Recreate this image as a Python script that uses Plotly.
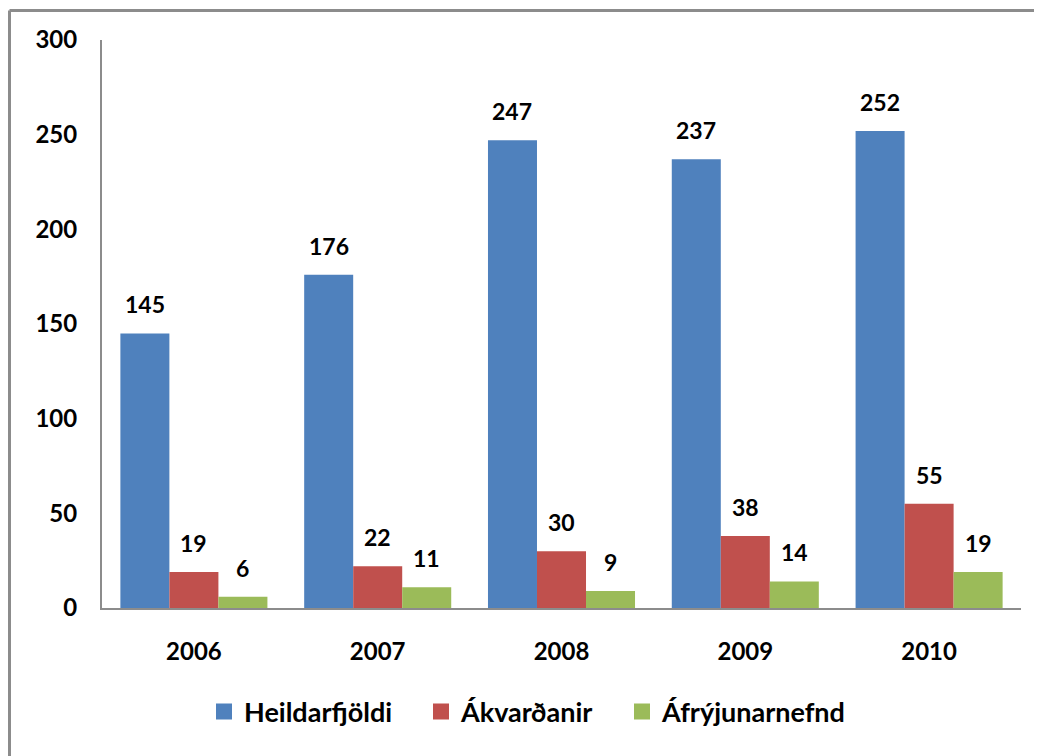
import plotly.graph_objects as go

years = ["2006", "2007", "2008", "2009", "2010"]
heildarfjoldi = [145, 176, 247, 237, 252]
akvardanir = [19, 22, 30, 38, 55]
afryjunarnefnd = [6, 11, 9, 14, 19]

series = [
    ("Heildarfjöldi", heildarfjoldi, "#4F81BD"),
    ("Ákvarðanir", akvardanir, "#C0504D"),
    ("Áfrýjunarnefnd", afryjunarnefnd, "#9BBB59"),
]

FONT = "Lato"
BAR_GAP = 0.2
n = len(series)
bw = (1 - BAR_GAP) / n

fig = go.Figure()
annotations = []
for i, (name, vals, col) in enumerate(series):
    fig.add_trace(go.Bar(x=years, y=vals, name=name, showlegend=False,
                         marker=dict(color=col, line=dict(width=0))))
    off = (i - (n - 1) / 2) * bw
    for j, v in enumerate(vals):
        annotations.append(dict(
            x=j + off, y=v, xref="x", yref="y", text=str(v), showarrow=False,
            yanchor="bottom", yshift=13,
            font=dict(family=FONT, size=23, color="black", weight="bold"),
        ))

# page body has 8px margin; figure sits at (8, 8) in the window
OFF = 8
W, H = 1042 - OFF, 756 - OFF
L, R, T, B = 102 - OFF, 21, 40 - OFF, 148
pw, ph = W - L - R, H - T - B

def px(x):
    return (x - OFF - L) / pw

def py(y):
    return (H - B - (y - OFF)) / ph

# legend-only entries with larger square swatches, each in its own legend
legend_ids = ["legend", "legend2", "legend3"]
swatch_left = [218, 435, 636]
legend_layouts = {}
for (name, vals, col), lid, sx in zip(series, legend_ids, swatch_left):
    fig.add_trace(go.Scatter(x=[None], y=[None], mode="markers", name=name, legend=lid,
                             marker=dict(symbol="square", size=16, color=col)))
    legend_layouts[lid] = dict(
        orientation="h", x=px(sx - 14), xanchor="left", y=py(712), yanchor="middle",
        font=dict(family=FONT, size=27, color="black", weight="bold"),
        itemwidth=30, itemsizing="trace", bgcolor="rgba(0,0,0,0)",
    )

shapes = [
    dict(type="line", xref="paper", yref="paper", x0=px(9.5), x1=px(1100), y0=py(10.5), y1=py(10.5),
         line=dict(color="#8C8C8C", width=3)),
    dict(type="line", xref="paper", yref="paper", x0=px(9.5), x1=px(9.5), y0=py(10.5), y1=py(800),
         line=dict(color="#8C8C8C", width=3)),
]

fig.update_layout(
    width=W, height=H,
    margin=dict(l=L, r=R, t=T, b=B, autoexpand=False),
    paper_bgcolor="white", plot_bgcolor="white",
    barmode="group", bargap=BAR_GAP, bargroupgap=0,
    font=dict(family=FONT, size=23, color="black", weight="bold"),
    annotations=annotations,
    shapes=shapes,
    showlegend=True,
    **legend_layouts,
)
fig.update_xaxes(
    showline=True, linecolor="#8C8C8C", linewidth=2, showgrid=False, ticks="",
    ticklabelstandoff=21, tickfont=dict(family=FONT, size=24, weight="bold"),
)
fig.update_yaxes(
    range=[0, 300], dtick=50, showline=True, linecolor="#8C8C8C", linewidth=2,
    showgrid=False, ticks="", zeroline=False, ticklabelstandoff=18,
    tickfont=dict(family=FONT, size=24, weight="bold"),
)

fig.write_html("out.html")
